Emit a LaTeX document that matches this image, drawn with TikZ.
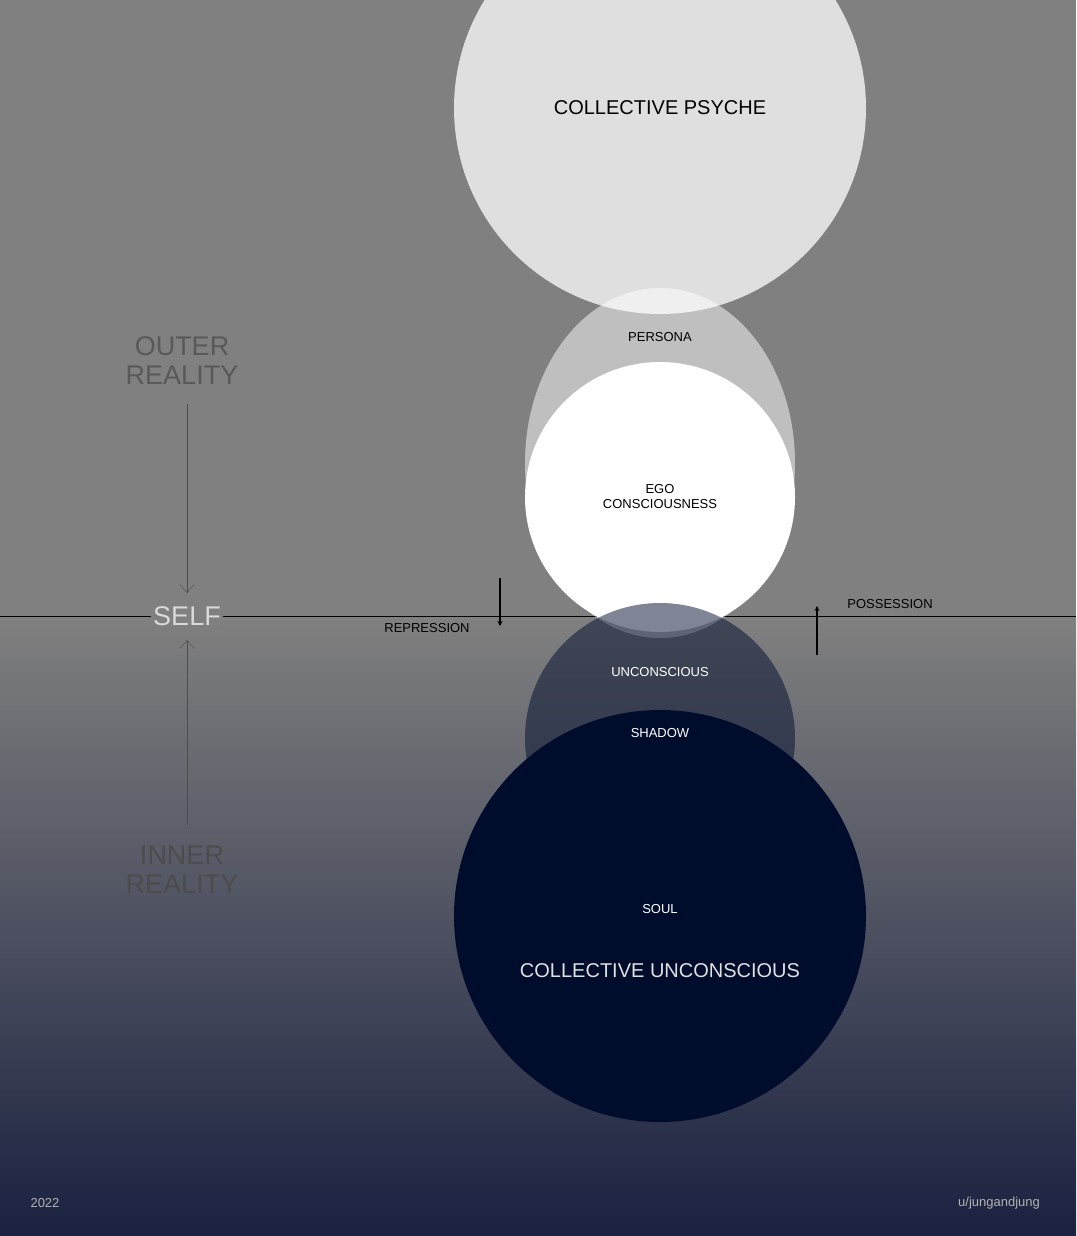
\documentclass[tikz,border=0pt]{standalone}
\usepackage{fontspec}
\setmainfont{Liberation Sans}
\usetikzlibrary{arrows.meta}
\definecolor{bg}{HTML}{808080}
\definecolor{bot}{HTML}{1A2140}
\definecolor{cu}{HTML}{000C2C}
\tikzset{lbl/.style={font=\fontsize{13}{15}\selectfont,align=center,inner sep=0pt},
big/.style={font=\fontsize{20}{22}\selectfont,inner sep=0pt},
side/.style={font=\fontsize{27}{29}\selectfont,align=center,inner sep=0pt}}
\begin{document}
\begin{tikzpicture}[x=1pt,y=-1pt]
\useasboundingbox (0,0) rectangle (1076,1236);
\fill[bg] (0,0) rectangle (1076,617);
\shade[top color=bg,bottom color=bot] (0,616) rectangle (1076,1236);
\draw[black,line width=0.8pt] (0,616) -- (1076,616);
\fill[color=cu] (660,916) circle (206);
\fill[white!75!bg] (660,108) circle (206);
\fill[white,opacity=0.5] (660,463) ellipse (135 and 175);
\fill[white] (660,497) circle (135);
\fill[cu,opacity=0.5] (660,738) circle (135);
\node[big] (cp) at (660,108) {COLLECTIVE PSYCHE};
\node[lbl] (pe) at (660,337) {PERSONA};
\node[lbl] (eg) at (660,497) {EGO\\CONSCIOUSNESS};
\node[lbl,text=white] (un) at (660,672) {UNCONSCIOUS};
\node[lbl,text=white] (sh) at (660,733) {SHADOW};
\node[lbl,text=white] (so) at (660,909) {SOUL};
\node[big,text=white!88!black] (cuu) at (660,971) {COLLECTIVE UNCONSCIOUS};
\node[side,text=black!65] (out) at (182,361) {OUTER\\REALITY};
\node[side,text=black!70] (inn) at (182,870) {INNER\\REALITY};
\node[side,text=white!85!black,fill=bg,inner xsep=2pt] (self) at (187,616) {SELF};
\coordinate (o1) at (187,404); \coordinate (i1) at (187,825);
\draw[black!70,-{Straight Barb[length=8pt,width=14pt]}] (o1) -- (self.north|-0,593);
\draw[black!70,-{Straight Barb[length=8pt,width=14pt]}] (i1) -- (187,640);
\node[lbl] (rep) at (427,628) {REPRESSION};
\node[lbl] (pos) at (890,604) {POSSESSION};
\coordinate (r1) at (500,578); \coordinate (r2) at (500,626);
\coordinate (p1) at (817,655); \coordinate (p2) at (817,606);
\draw[line width=1.6pt,-{Stealth[length=5pt,width=5pt]}] (r1) -- (r2);
\draw[line width=1.6pt,-{Stealth[length=5pt,width=5pt]}] (p1) -- (p2);
\node[lbl,text=black!30] (yr) at (45,1203) {2022};
\node[lbl,text=black!30] (au) at (999,1203) {u/jungandjung};
\end{tikzpicture}
\end{document}
